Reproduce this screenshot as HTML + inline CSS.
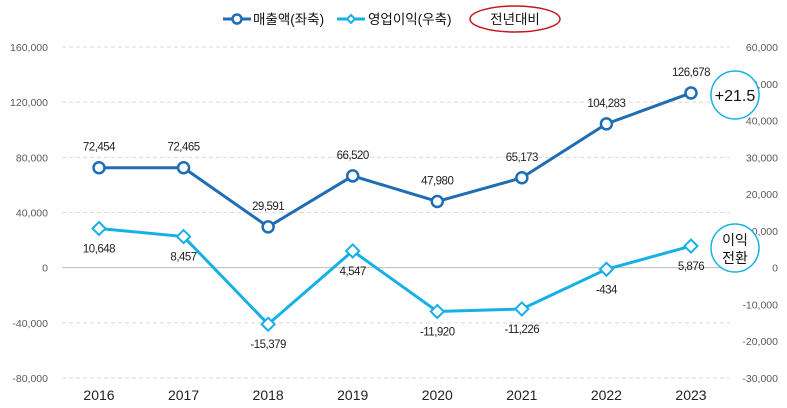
<!DOCTYPE html>
<html><head><meta charset="utf-8"><style>
body{margin:0;background:#fff;}
svg{display:block;font-family:"Liberation Sans","Noto Sans CJK KR",sans-serif;}
</style></head><body>
<svg id="c" width="787" height="408"></svg>
<script>
const years=["2016","2017","2018","2019","2020","2021","2022","2023"];
const revenue=[72454,72465,29591,66520,47980,65173,104283,126678];
const profit=[10648,8457,-15379,4547,-11920,-11226,-434,5876];
const leftTicks=[160000,120000,80000,40000,0,-40000,-80000];
const rightTicks=[60000,50000,40000,30000,20000,10000,0,-10000,-20000,-30000];
const NS="http://www.w3.org/2000/svg";
const svg=document.getElementById('c');
function el(t,a,txt){const e=document.createElementNS(NS,t);for(const k in a)e.setAttribute(k,a[k]);if(txt!==undefined)e.textContent=txt;svg.appendChild(e);return e;}
const plotTop=47,plotBot=378;
const yL=v=>plotTop+(160000-v)/240000*(plotBot-plotTop);
const yR=v=>plotTop+(60000-v)/90000*(plotBot-plotTop);
const xS=i=>99+i*84.57;
const fmt=v=>v.toLocaleString('en-US');
leftTicks.forEach(t=>{
  const g=el('line',{x1:62,x2:730,y1:yL(t),y2:yL(t),stroke:t===0?'#bbb':'#d9d9d9','stroke-dasharray':t===0?'':'4,3'});
  
  
  const l=el('text',{x:48,y:yL(t)+4,'text-anchor':'end','font-size':10.5,fill:'#595959'},fmt(t));
  
  
});
rightTicks.forEach(t=>{
  const l=el('text',{x:778,y:yR(t)+4,'text-anchor':'end','font-size':10.5,fill:'#595959'},fmt(t));
  
  
});
years.forEach((y,i)=>{
  const l=el('text',{x:xS(i),y:400,'text-anchor':'middle','font-size':14,fill:'#222'},y);
  
  
});
const rp=revenue.map((v,i)=>xS(i)+','+yL(v)).join(' ');
const rl=el('polyline',{points:rp,fill:'none',stroke:'#1f6db5','stroke-width':3});


const pp=profit.map((v,i)=>xS(i)+','+yR(v)).join(' ');
const pl=el('polyline',{points:pp,fill:'none',stroke:'#17b0e6','stroke-width':3});


revenue.forEach((v,i)=>{
  const c=el('circle',{cx:xS(i),cy:yL(v),r:5.5,fill:'#fff',stroke:'#1f6db5','stroke-width':2.5});
  
  
  const t=el('text',{x:xS(i),y:yL(v)-17,'text-anchor':'middle','font-size':11.5,fill:'#222','letter-spacing':'-0.5'},fmt(v));
  
  
});
profit.forEach((v,i)=>{
  const x=xS(i),y=yR(v);
  const d=el('polygon',{points:`${x},${y-6.5} ${x+6.5},${y} ${x},${y+6.5} ${x-6.5},${y}`,fill:'#fff',stroke:'#17b0e6','stroke-width':2});
  
  
  const t=el('text',{x:x,y:y+24,'text-anchor':'middle','font-size':11.5,fill:'#222','letter-spacing':'-0.5'},fmt(v));
  
  
});
let c1=el('circle',{cx:735,cy:95,r:24,fill:'#fff',stroke:'#17b0e6','stroke-width':1.5});


let t1=el('text',{x:735,y:101,'text-anchor':'middle','font-size':16,fill:'#111'},'+21.5');


let c2=el('circle',{cx:735,cy:248,r:24,fill:'#fff',stroke:'#17b0e6','stroke-width':1.5});


let t2=el('text',{x:735,y:245,'text-anchor':'middle','font-size':14,fill:'#111'},'이익');


let t3=el('text',{x:735,y:263,'text-anchor':'middle','font-size':14,fill:'#111'},'전환');


let a=el('line',{x1:223,x2:251,y1:19,y2:19,stroke:'#1f6db5','stroke-width':3});


let b=el('circle',{cx:237,cy:19,r:4.5,fill:'#fff',stroke:'#1f6db5','stroke-width':2.5});


let lt=el('text',{x:253,y:24,'font-size':13.5,fill:'#111'},'매출액(좌축)');


let a2=el('line',{x1:337,x2:365,y1:19,y2:19,stroke:'#17b0e6','stroke-width':3});


let b2=el('polygon',{points:'351,15 355,19 351,23 347,19',fill:'#fff',stroke:'#17b0e6','stroke-width':2});


let lt2=el('text',{x:368,y:24,'font-size':13.5,fill:'#111'},'영업이익(우축)');


let e=el('ellipse',{cx:515,cy:19,rx:45,ry:13,fill:'#fff',stroke:'#c0181e','stroke-width':1.5});


let et=el('text',{x:515,y:24,'text-anchor':'middle','font-size':13.5,fill:'#111'},'전년대비');


</script>
</body></html>
